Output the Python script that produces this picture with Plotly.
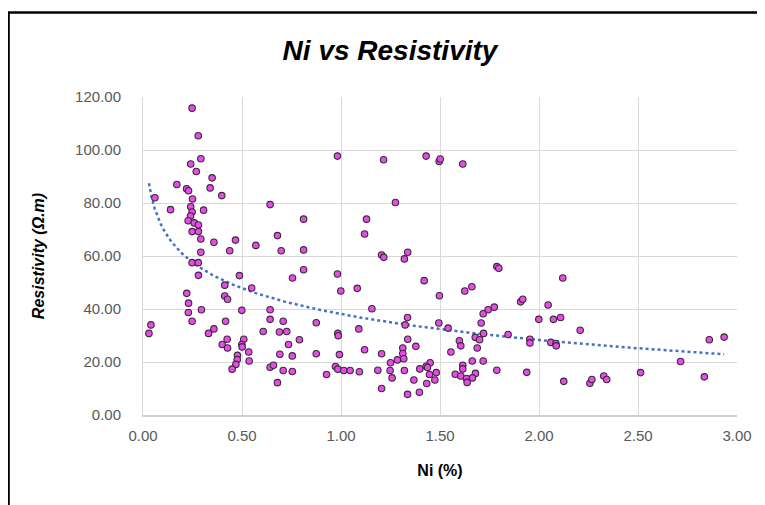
import numpy as np
import plotly.graph_objects as go

ni = [0.248, 0.279, 0.292, 0.241, 0.269, 0.349, 0.171, 0.220, 0.230, 0.339, 0.398, 0.060, 0.250, 0.241, 0.139, 0.306,
      0.248, 0.240, 0.228, 0.259, 0.280, 0.248, 0.280, 0.292, 0.358, 0.467, 0.570, 0.679, 0.642, 0.438, 0.292, 0.698,
      0.248, 0.279, 0.280, 0.487, 0.413, 0.549, 0.221, 0.413, 0.427, 0.230, 0.229, 0.295, 0.499, 0.642, 0.248, 0.417,
      0.642, 0.708, 0.040, 0.030, 0.358, 0.331, 0.607, 0.689, 0.726, 0.425, 0.400, 0.427, 0.509, 0.499, 0.501, 0.735,
      0.534, 0.691, 0.477, 0.476, 0.469, 0.450, 0.536, 0.642, 0.659, 0.708, 0.679,
      0.982, 1.215, 1.430, 1.496, 1.501, 1.275, 0.811, 1.129, 1.119, 0.811, 1.205, 1.216, 1.337, 1.320,
      0.811, 0.755, 0.982, 0.999, 1.082, 1.420, 1.497, 1.156, 0.875, 0.790, 0.984, 0.986, 1.090, 1.336, 1.324, 1.494,
      1.337, 1.378, 1.312, 1.312, 1.317, 1.285, 0.754, 0.875, 0.992, 1.119, 1.205, 1.250, 1.450, 1.430, 1.437, 0.754,
      0.927, 0.972, 0.984, 1.014, 1.046, 1.093, 1.186, 1.248, 1.320, 1.258, 1.398, 1.447, 1.481, 1.474, 1.368, 1.433,
      1.205, 1.336, 1.396,
      1.615,
      1.787, 1.797, 2.120, 1.625, 1.661, 1.907, 1.918, 2.046, 1.774, 1.743, 1.718, 1.999, 2.073, 2.109, 2.208, 1.541,
      1.708, 1.598, 1.605, 1.678, 1.700, 1.720, 1.844, 1.954, 1.954, 2.060, 2.085, 2.087, 1.688, 1.555, 1.663, 1.718,
      1.615, 1.615, 1.787, 1.938, 1.577, 1.605, 1.679, 1.634, 1.664, 1.637, 2.125,
      2.257, 2.267, 2.327, 2.342, 2.513, 2.715, 2.835, 2.860, 2.935]

resistivity = [115.8, 105.4, 96.7, 94.7, 91.9, 89.5, 87.0, 85.4, 84.6, 85.7, 82.8, 82.0, 81.5, 78.6, 77.5, 77.3,
               76.6, 75.1, 73.3, 72.5, 71.7, 69.2, 69.2, 66.4, 65.2, 66.0, 64.0, 67.7, 79.4, 62.0, 61.4, 62.0,
               57.5, 57.5, 52.7, 52.6, 49.0, 47.9, 45.9, 44.9, 43.7, 42.2, 38.7, 39.7, 39.5, 39.7, 35.4, 35.4,
               36.1, 35.4, 34.0, 30.8, 32.5, 30.8, 31.5, 31.3, 31.5, 28.6, 26.6, 25.3, 28.6, 26.6, 25.7, 26.6,
               23.8, 22.9, 22.5, 20.9, 19.1, 17.3, 20.4, 18.0, 18.8, 16.8, 12.2,
               97.7, 96.3, 97.7, 95.7, 96.6, 80.2, 73.9, 73.9, 68.3, 62.3, 60.4, 59.5, 61.4, 58.9,
               54.8, 51.7, 53.2, 46.8, 47.8, 50.7, 45.0, 40.1, 34.8, 28.4, 30.8, 29.9, 32.5, 36.8, 34.0, 34.7,
               28.6, 25.9, 25.3, 23.2, 21.2, 20.8, 22.3, 23.1, 22.8, 24.6, 23.1, 19.7, 19.7, 18.4, 17.9, 16.4,
               15.3, 18.3, 17.3, 16.8, 16.8, 16.3, 16.9, 16.8, 16.8, 14.0, 17.4, 15.3, 16.0, 13.2, 13.2, 11.9,
               10.0, 7.8, 8.6,
               94.7,
               56.0, 55.4, 51.7, 46.8, 48.4, 42.7, 43.7, 41.5, 40.7, 39.7, 38.2, 36.1, 36.1, 36.8, 32.0, 32.8,
               34.7, 28.0, 26.1, 29.3, 28.4, 30.8, 30.4, 28.6, 27.2, 27.4, 27.0, 26.1, 25.3, 23.8, 20.4, 20.4,
               18.8, 17.4, 16.9, 16.1, 15.4, 14.7, 15.7, 13.8, 14.0, 12.3, 12.7,
               12.0, 13.4, 14.7, 13.4, 16.0, 20.2, 14.4, 28.4, 29.4]

x_ticks = [0.0, 0.5, 1.0, 1.5, 2.0, 2.5, 3.0]
y_ticks = [0, 20, 40, 60, 80, 100, 120]

# logarithmic trendline fitted to the data (like Excel's "Logarithmic" trendline)
xa = np.array(ni)
ya = np.array(resistivity)
b, a = np.polyfit(np.log(xa), ya, 1)
xt = np.linspace(xa.min(), xa.max(), 200)
yt = a + b * np.log(xt)

fig = go.Figure()
fig.add_trace(go.Scatter(
    x=xt, y=yt, mode="lines",
    line=dict(color="#4472C4", width=2.5, dash="dot"),
    hoverinfo="skip", showlegend=False))
fig.add_trace(go.Scatter(
    x=ni, y=resistivity, mode="markers",
    marker=dict(size=6.5, color="#E84CE8", line=dict(color="#3a2a3a", width=1.1)),
    showlegend=False))

# the page body has an 8px margin, so the figure is drawn 8px in from the top/left
OFF = 8
W, H = 765 - OFF, 505 - OFF
L, R, T, B = 142.5 - OFF, 28.3, 97.3 - OFF, 90.3
pw, ph = W - L - R, H - T - B

def px2x(px):
    return (px - OFF - L) / pw

def py2y(py):
    return (H - B - (py - OFF)) / ph

fig.update_layout(
    width=W, height=H,
    margin=dict(l=L, r=R, t=T, b=B, pad=0),
    paper_bgcolor="white", plot_bgcolor="white",
    font=dict(family="Liberation Sans, Arial", color="#595959", size=15),
    title=dict(text="<b><i>Ni vs Resistivity</i></b>", x=(390 - OFF) / W, xanchor="center",
               y=1 - (50 - OFF) / H, yanchor="middle",
               font=dict(size=28, color="black", family="Liberation Sans, Arial")),
    xaxis=dict(range=[0, 3], tickvals=x_ticks, tickformat=".2f",
               showgrid=True, gridcolor="#d9d9d9", gridwidth=1,
               showline=True, linecolor="#d0d0d0", linewidth=1.5,
               zeroline=False, ticks="", ticklabelstandoff=6,
               title=dict(text="<b>Ni (%)</b>", font=dict(size=16, color="black"), standoff=22)),
    yaxis=dict(range=[0, 120], tickvals=y_ticks, tickformat=".2f",
               showgrid=True, gridcolor="#d9d9d9", gridwidth=1,
               showline=True, linecolor="#d9d9d9", linewidth=1,
               zeroline=False, ticks="", ticklabelstandoff=18,
               title=dict(text="<b><i>Resistivity (Ω.m)</i></b>", font=dict(size=16, color="black"), standoff=26)),
    shapes=[dict(type="rect", xref="paper", yref="paper",
                 x0=px2x(8), x1=px2x(790), y0=py2y(530), y1=py2y(13),
                 line=dict(color="black", width=2.5), fillcolor="rgba(0,0,0,0)", layer="above")],
)

fig.write_html("out.html")
